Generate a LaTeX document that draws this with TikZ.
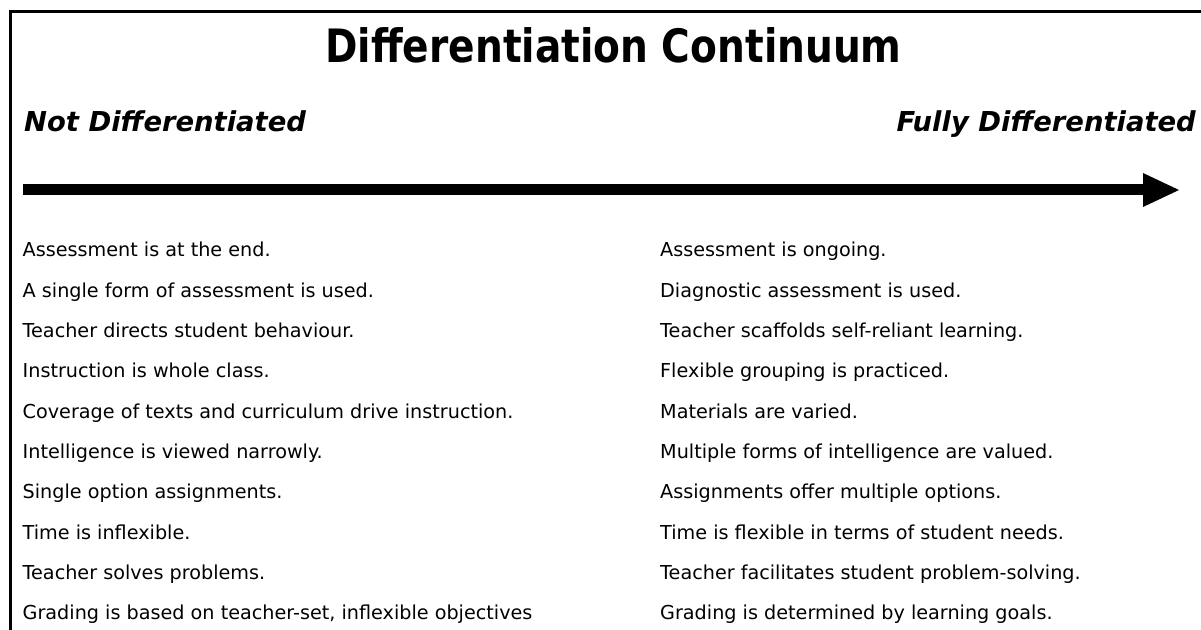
\documentclass[tikz,border=0pt]{standalone}
\usepackage{fontspec}
\setmainfont{DejaVu Sans}[BoldFont={DejaVu Sans Bold},ItalicFont={DejaVu Sans Oblique},BoldItalicFont={DejaVu Sans Bold Oblique}]
\newfontfamily\titlefont{DejaVu Sans Bold}[FakeStretch=0.85]
\usetikzlibrary{calc}
\begin{document}
\begin{tikzpicture}[x=1bp,y=-1bp,
  frame/.style={line width=3bp},
  body/.style={anchor=base west, inner sep=0pt, font=\fontsize{19.2bp}{23bp}\selectfont},
  sub/.style={inner sep=0pt, font=\fontsize{27.4bp}{33bp}\selectfont\bfseries\itshape},
  ttl/.style={anchor=base, inner sep=0pt, font=\titlefont\fontsize{46bp}{55bp}\selectfont},
  shaft/.style={line width=11bp}]
\path[fill=white,use as bounding box] (0,0) rectangle (1201,630);
% frame
\coordinate (fbl) at (10,632);
\coordinate (ftl) at (10,12);
\coordinate (ftr) at (1203,12);
\draw[frame] (fbl) -- (ftl) -- (ftr);
% title and ends
\node[ttl] (title) at (613.5,63) {Differentiation Continuum};
\node[sub,anchor=base west] (notd) at (24,132) {Not Differentiated};
\node[sub,anchor=base east] (fully) at (1196,132) {Fully Differentiated};
% arrow
\coordinate (as) at (23,190);
\coordinate (ab) at (1143,190);
\coordinate (ae) at (1179,190);
\draw[shaft] (as) -- (ab);
\fill ($(ab)+(0,-17)$) -- (ae) -- ($(ab)+(0,17)$) -- cycle;
% left column
\node[body] (l1) at (22.5,257) {Assessment is at the end.};
\node[body] (l2) at (22.5,297.3) {A single form of assessment is used.};
\node[body] (l3) at (22.5,337.6) {Teacher directs student behaviour.};
\node[body] (l4) at (22.5,377.9) {Instruction is whole class.};
\node[body] (l5) at (22.5,418.2) {Coverage of texts and curriculum drive instruction.};
\node[body] (l6) at (22.5,458.5) {Intelligence is viewed narrowly.};
\node[body] (l7) at (22.5,498.8) {Single option assignments.};
\node[body] (l8) at (22.5,539.1) {Time is inflexible.};
\node[body] (l9) at (22.5,579.4) {Teacher solves problems.};
\node[body] (l10) at (22.5,619.7) {Grading is based on teacher-set, inflexible objectives};
% right column
\node[body] (r1) at (660,257) {Assessment is ongoing.};
\node[body] (r2) at (660,297.3) {Diagnostic assessment is used.};
\node[body] (r3) at (660,337.6) {Teacher scaffolds self-reliant learning.};
\node[body] (r4) at (660,377.9) {Flexible grouping is practiced.};
\node[body] (r5) at (660,418.2) {Materials are varied.};
\node[body] (r6) at (660,458.5) {Multiple forms of intelligence are valued.};
\node[body] (r7) at (660,498.8) {Assignments offer multiple options.};
\node[body] (r8) at (660,539.1) {Time is flexible in terms of student needs.};
\node[body] (r9) at (660,579.4) {Teacher facilitates student problem-solving.};
\node[body] (r10) at (660,619.7) {Grading is determined by learning goals.};
\end{tikzpicture}
\end{document}
